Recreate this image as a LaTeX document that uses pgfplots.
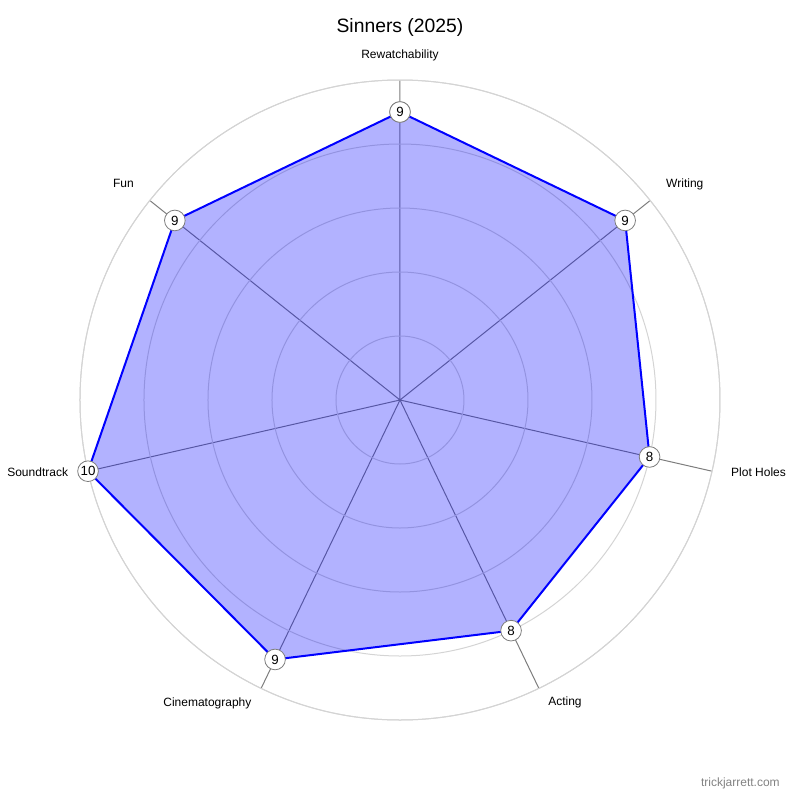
\documentclass[border=0pt]{standalone}
\usepackage{fontspec}
\setmainfont{Liberation Sans}
\usepackage{pgfplots}
\pgfplotsset{compat=1.18}
\usepgfplotslibrary{polar}
\definecolor{gridgrey}{RGB}{212,212,212}
\definecolor{spokegrey}{RGB}{125,125,125}
\definecolor{wmgrey}{RGB}{130,130,130}
\tikzset{lblpos/.code={%
  \ifcase\ticknum\relax
    \def\lblopts{anchor=center,xshift=0pt,yshift=18.75pt}%
  \or \def\lblopts{anchor=west,xshift=11.85pt,yshift=12.4pt}%
  \or \def\lblopts{anchor=west,xshift=14.25pt,yshift=-0.4pt}%
  \or \def\lblopts{anchor=west,xshift=6.9pt,yshift=-10.2pt}%
  \or \def\lblopts{anchor=east,xshift=-7.1pt,yshift=-11pt}%
  \or \def\lblopts{anchor=east,xshift=-14.8pt,yshift=-0.6pt}%
  \or \def\lblopts{anchor=east,xshift=-11.85pt,yshift=13.1pt}%
  \else \def\lblopts{}%
  \fi
  \expandafter\pgfkeysalso\expandafter{\lblopts}}}
\begin{document}
\begin{tikzpicture}
\useasboundingbox (-300pt,-300pt) rectangle (300pt,300pt);
\begin{polaraxis}[
  at={(0pt,0pt)}, anchor=origin,
  width=480pt, height=480pt, scale only axis,
  ymin=0, ymax=10,
  xmin=0, xmax=360,
  xtick={90,38.571,347.143,295.714,244.286,192.857,141.429},
  xticklabels={Rewatchability,Writing,Plot Holes,Acting,Cinematography,Soundtrack,Fun},
  ytick={2,4,6,8,10},
  yticklabels={},
  xmajorgrids, ymajorgrids,
  major tick length=0pt,
  x grid style={spokegrey, line width=0.75pt},
  y grid style={gridgrey, line width=0.75pt},
  separate axis lines,
  x axis line style={gridgrey, line width=0.75pt},
  y axis line style={draw=none},
  xticklabel style={font=\fontsize{9}{11}\selectfont, text=black, inner sep=0pt, lblpos},
  /pgf/number format/assume math mode=true,
]
\addplot[blue, line width=1.5pt, fill=blue, fill opacity=0.3, mark=none,
  point meta=y,
  nodes near coords,
  every node near coord/.append style={anchor=center, circle, draw=spokegrey, fill=white,
    fill opacity=1, draw opacity=1, text opacity=1, inner sep=0pt, minimum size=15.5pt,
    line width=0.6pt, text=black, font=\fontsize{10}{12}\selectfont}
] coordinates {(90,9) (38.571,9) (347.143,8) (295.714,8) (244.286,9) (192.857,10) (141.429,9) (90,9)};
\end{polaraxis}
\node[font=\fontsize{14.5}{17}\selectfont] at (0pt,279.6pt) {Sinners (2025)};
\node[anchor=east, text=wmgrey, font=\fontsize{9}{11}\selectfont, inner sep=0pt] at (285pt,-287.25pt) {trickjarrett.com};
\end{tikzpicture}
\end{document}
